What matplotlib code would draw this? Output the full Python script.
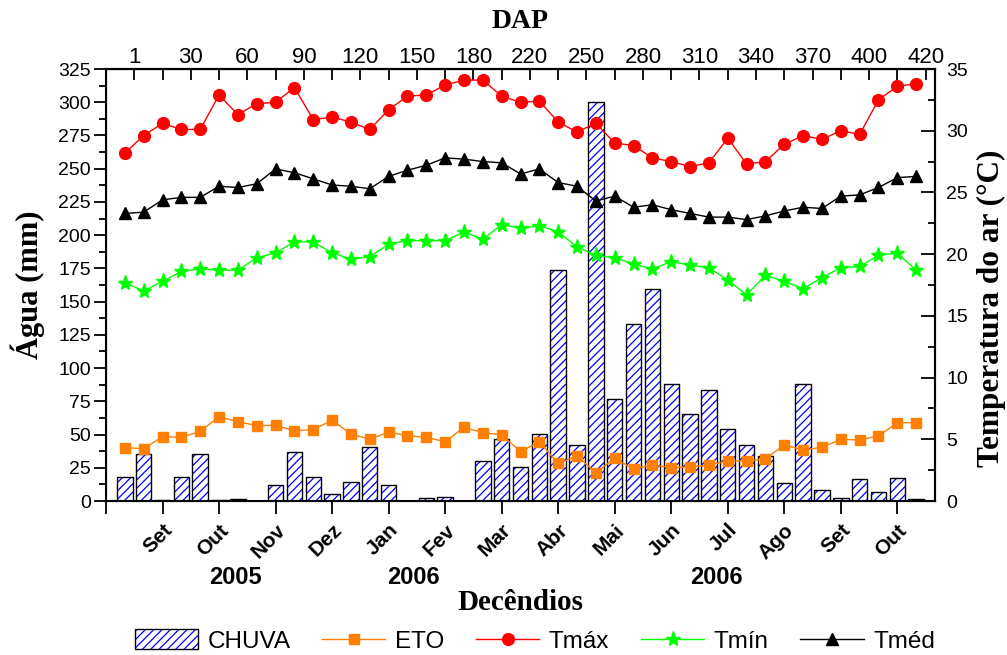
import numpy as np
import matplotlib
matplotlib.use("Agg")
import matplotlib.pyplot as plt
import matplotlib.transforms as mtransforms
from matplotlib.patches import Patch
from matplotlib.lines import Line2D
from matplotlib.legend_handler import HandlerTuple

# -----------------------------
# Data (decêndios, Aug/2005 - Oct/2006)
# -----------------------------
chuva = [18.3, 35.1, 0.6, 18.3, 35.1, 0.5, 1.7, 0.0, 11.8, 37.1,
         18.3, 5.5, 14.3, 40.9, 12.0, 0.2, 2.5, 3.3, 0.0, 30.3,
         47.0, 25.8, 50.4, 173.8, 42.1, 300.0, 77.0, 132.9, 159.7, 88.0,
         65.2, 83.8, 53.9, 42.4, 33.9, 13.3, 87.8, 8.5, 2.0, 16.3,
         6.8, 17.5, 1.2]
eto = [40.1, 39.4, 48.4, 47.9, 52.4, 63.4, 59.7, 56.7, 56.9, 52.9,
       53.7, 60.7, 50.4, 46.4, 51.9, 49.1, 47.9, 44.6, 55.4, 51.4,
       49.8, 37.1, 44.6, 28.3, 33.9, 21.3, 32.1, 24.1, 27.1, 25.1,
       25.6, 27.1, 30.1, 30.1, 31.8, 42.1, 38.4, 40.4, 46.4, 45.9,
       48.9, 58.9, 58.9]
tmax = [28.2, 29.6, 30.6, 30.1, 30.1, 32.9, 31.3, 32.2, 32.3, 33.5,
        30.9, 31.1, 30.7, 30.1, 31.7, 32.8, 32.9, 33.7, 34.1, 34.1,
        32.8, 32.3, 32.4, 30.7, 29.9, 30.6, 29.0, 28.8, 27.8, 27.5,
        27.1, 27.4, 29.4, 27.3, 27.5, 28.9, 29.6, 29.3, 30.0, 29.7,
        32.5, 33.6, 33.8]
tmin = [17.7, 17.0, 17.8, 18.6, 18.8, 18.7, 18.7, 19.7, 20.1, 21.0,
        21.0, 20.1, 19.6, 19.8, 20.8, 21.1, 21.1, 21.1, 21.8, 21.2,
        22.4, 22.1, 22.3, 21.8, 20.6, 19.9, 19.7, 19.2, 18.8, 19.4,
        19.1, 18.9, 17.9, 16.7, 18.3, 17.8, 17.2, 18.1, 18.9, 19.0,
        19.9, 20.1, 18.7]
tmed = [23.3, 23.4, 24.4, 24.6, 24.6, 25.5, 25.4, 25.7, 26.9, 26.6,
        26.1, 25.6, 25.5, 25.3, 26.3, 26.8, 27.2, 27.8, 27.7, 27.5,
        27.4, 26.5, 26.9, 25.8, 25.5, 24.3, 24.7, 23.8, 24.0, 23.6,
        23.3, 23.0, 23.0, 22.8, 23.1, 23.5, 23.8, 23.7, 24.7, 24.8,
        25.4, 26.2, 26.3]
meses = ["Set", "Out", "Nov", "Dez", "Jan", "Fev", "Mar", "Abr", "Mai",
         "Jun", "Jul", "Ago", "Set", "Out"]
dap = ["1", "30", "60", "90", "120", "150", "180", "220", "250", "280",
       "310", "340", "370", "400", "420"]
anos = ["2005", "2006", "2006"]
anos_pos = [5.85, 15.3, 31.4]

x = np.arange(len(chuva))

plt.rcParams["font.family"] = ["Liberation Sans", "DejaVu Sans"]
plt.rcParams["hatch.linewidth"] = 0.9
plt.rcParams["hatch.color"] = "#0000ff"

fig = plt.figure(figsize=(10.07, 6.55), dpi=100)
ax = fig.add_axes([106 / 1007, 154 / 655, 829 / 1007, 432 / 655])

# rain bars: blue hatch with black outline
ax.bar(x, chuva, width=0.82, facecolor="white", edgecolor="#0000ff",
       hatch="////", linewidth=0, zorder=2)
ax.bar(x, chuva, width=0.82, facecolor="none", edgecolor="black",
       linewidth=1.0, zorder=3)
ax.plot(x, eto, color="#ff8000", lw=1.0, marker="s", ms=7.5, zorder=4)

ax.set_xlim(-1, 43)
ax.set_ylim(0, 325)
ax.set_yticks(np.arange(0, 326, 25))
ax.set_yticks(np.arange(0, 326, 12.5), minor=True)
ax.set_xticks(np.arange(2, 42, 3))
ax.set_xticklabels(meses, rotation=45, ha="right", rotation_mode="anchor",
                   fontsize=15, fontweight="bold")
ax.set_xticks(np.arange(-1, 43.1, 3), minor=True)
ax.tick_params(axis="y", which="major", direction="out", length=9, width=1.3,
               labelsize=14, pad=2)
ax.tick_params(axis="y", which="minor", direction="out", length=5, width=1.3)
ax.tick_params(axis="x", which="both", direction="out", length=9, width=1.3,
               pad=5)
for s in ax.spines.values():
    s.set_linewidth(1.5)

# DAP axis on top
sec = ax.secondary_xaxis("top")
sec.set_xticks(np.arange(0.5, 43, 3))
sec.set_xticklabels(dap, fontsize=16)
sec.set_xticks(np.arange(2, 43, 3), minor=True)
sec.tick_params(which="both", direction="in", length=8, width=1.3, pad=1)
sec.spines["top"].set_linewidth(1.5)

# temperatures on right axis
ax2 = ax.twinx()
ax2.plot(x, tmax, color="#ff0000", lw=1.0, marker="o", ms=8.5, zorder=5)
ax2.plot(x, tmin, color="#00ff00", lw=1.0, marker="*", ms=11, zorder=5)
ax2.plot(x, tmed, color="black", lw=1.0, marker="^", ms=8.5, zorder=5)
ax2.set_ylim(0, 35)
ax2.set_yticks(np.arange(0, 36, 5))
ax2.set_yticks(np.arange(0, 36, 2.5), minor=True)
ax2.tick_params(axis="y", which="major", direction="in", length=10, width=1.3,
                labelsize=14, pad=8)
ax2.tick_params(axis="y", which="minor", direction="in", length=5, width=1.3)
ax2.spines["right"].set_linewidth(1.5)

# titles
serif = ["Liberation Serif", "DejaVu Serif"]
ax.text(-0.094, 0.5, "Água (mm)", transform=ax.transAxes, rotation=90,
        ha="center", va="center", fontsize=22, fontweight="bold", family=serif)
ax.text(1.068, 0.445, "Temperatura do ar (°C)", transform=ax.transAxes,
        rotation=90, ha="center", va="center", fontsize=22.5, fontweight="bold",
        family=serif)
ax.text(0.5, 1.109, "DAP", transform=ax.transAxes, ha="center", va="center",
        fontsize=20, fontweight="bold", family=serif)
ax.text(0.5, -0.236, "Decêndios", transform=ax.transAxes, ha="center",
        va="center", fontsize=21, fontweight="bold", family=serif)

trans = mtransforms.blended_transform_factory(ax.transData, ax.transAxes)
for pos, ano in zip(anos_pos, anos):
    ax.text(pos, -0.178, ano, transform=trans, ha="center", va="center",
            fontsize=17, fontweight="bold")

# legend
h_chuva = (Patch(facecolor="white", edgecolor="#0000ff", hatch="////", lw=0),
           Patch(facecolor="none", edgecolor="black", lw=1.0))
handles = [h_chuva,
           Line2D([], [], color="#ff8000", lw=1.0, marker="s", ms=7.5),
           Line2D([], [], color="#ff0000", lw=1.0, marker="o", ms=8.5),
           Line2D([], [], color="#00ff00", lw=1.0, marker="*", ms=11),
           Line2D([], [], color="black", lw=1.0, marker="^", ms=8.5)]
labels = ["CHUVA", "ETO", "Tmáx", "Tmín", "Tméd"]
fig.legend(handles, labels, loc="center", bbox_to_anchor=(535 / 1007, 1 - 641 / 655),
           ncol=5, frameon=False, fontsize=17.5, handlelength=2.6,
           handleheight=0.85, columnspacing=1.3, handletextpad=0.4,
           handler_map={tuple: HandlerTuple(ndivide=1, pad=0)})

fig.savefig("out.png", dpi=100)
